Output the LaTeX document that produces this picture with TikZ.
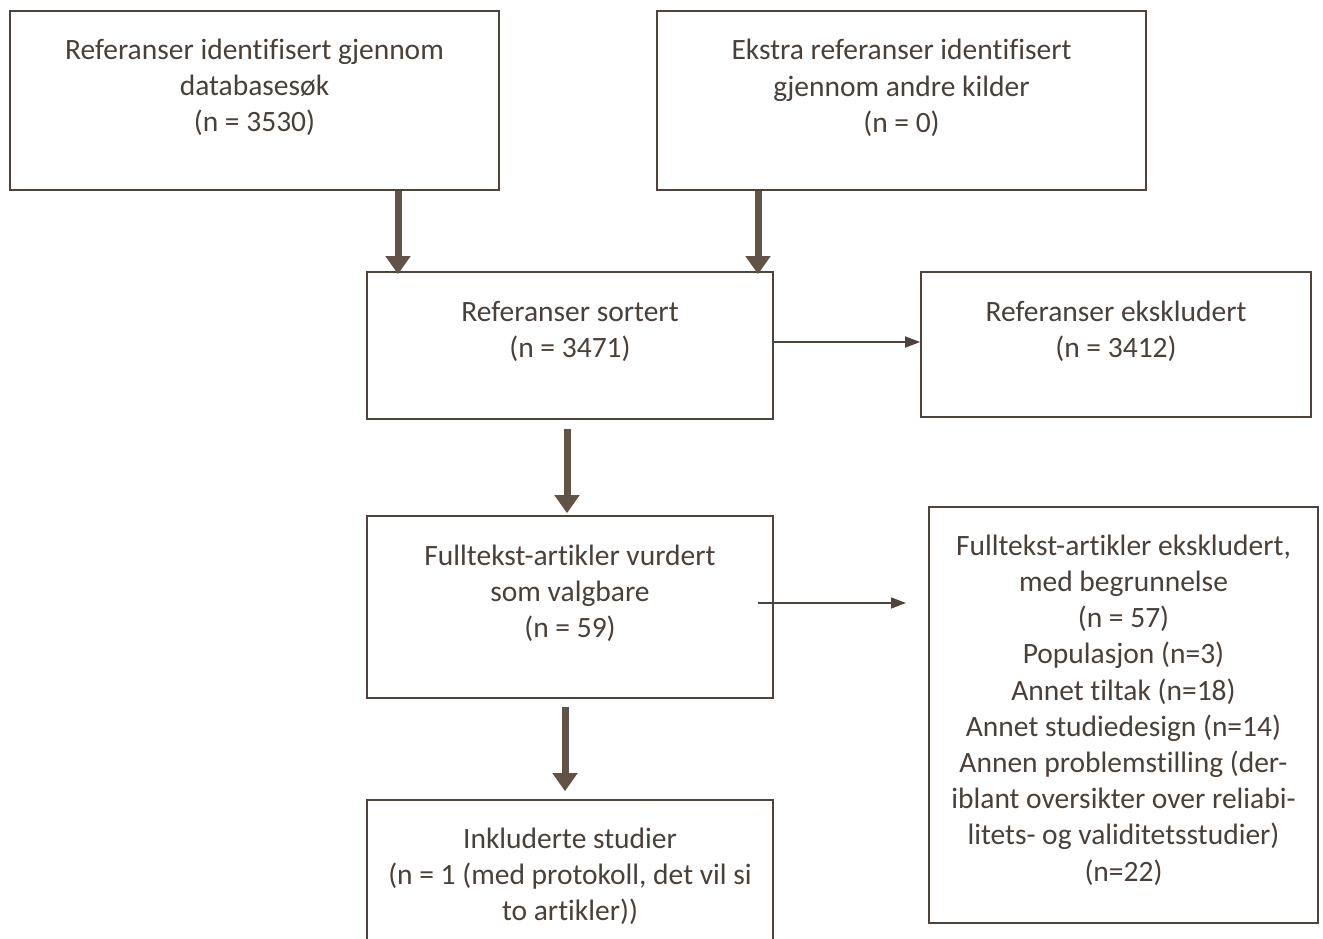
\documentclass[tikz,border=0pt]{standalone}
\usepackage{fontspec}
\setmainfont[Ligatures={NoCommon}]{Carlito}
\usetikzlibrary{arrows.meta,calc}
\definecolor{bc}{HTML}{4F443D}
\definecolor{ac}{HTML}{625347}
\definecolor{tc}{HTML}{4A403A}
\begin{document}
\begin{tikzpicture}[x=1pt,y=-1pt,
  box/.style={draw=bc, line width=1.6pt, inner sep=0pt, fill=none},
  txt/.style={font=\fontsize{29.5}{36.2}\selectfont, align=center, text=tc, inner sep=0pt},
  thick/.style={draw=ac, line width=7pt, -{Triangle[width=24pt,length=18pt]}},
  thin/.style={draw=bc, line width=1.5pt, -{Triangle[width=11pt,length=15pt]}}]
\useasboundingbox (0,0) rectangle (1323,939);
\clip (0,0) rectangle (1323,939);
% boxes
\node[box, minimum width=489pt, minimum height=179pt] (b1) at (254.5,100.5) {};
\node[box, minimum width=489pt, minimum height=179pt] (b2) at (901.5,100.5) {};
\node[box, minimum width=406pt, minimum height=147pt] (b3) at (570,345.5) {};
\node[box, minimum width=390pt, minimum height=145pt] (b4) at (1116,344.5) {};
\node[box, minimum width=406pt, minimum height=182pt] (b5) at (570,607) {};
\node[box, minimum width=389pt, minimum height=416pt] (b6) at (1123.5,715) {};
\node[box, minimum width=406pt, minimum height=200pt] (b7) at (570,900) {};
% texts
\node[txt] (t1) at (254.5,87.5) {Referanser identifisert gjennom\\databasesøk\\(n = 3530)};
\node[txt] (t2) at (901.5,88) {Ekstra referanser identifisert\\gjennom andre kilder\\(n = 0)};
\node[txt] (t3) at (570,331.5) {Referanser sortert\\(n = 3471)};
\node[txt] (t4) at (1116,331.5) {Referanser ekskludert\\(n = 3412)};
\node[txt] (t5) at (570,593) {Fulltekst-artikler vurdert\\som valgbare\\(n = 59)};
\node[txt] (t6) at (1123.5,710) {Fulltekst-artikler ekskludert,\\med begrunnelse\\(n = 57)\\Populasjon (n=3)\\Annet tiltak (n=18)\\Annet studiedesign (n=14)\\Annen problemstilling (der-\\iblant oversikter over reliabi-\\litets- og validitetsstudier)\\(n=22)};
\node[txt] (t7) at (570,876.5) {Inkluderte studier\\(n = 1 (med protokoll, det vil si\\to artikler))};
% arrow x positions
\coordinate (xa) at (398,0);
\coordinate (xb) at (758,0);
\coordinate (xc) at (567,0);
\coordinate (xd) at (565,0);
\coordinate (ya) at (0,342);
\coordinate (s5) at (758,603);
\coordinate (e5) at (906,603);
\draw[thick] (b1.south -| xa) -- ($(b3.north -| xa)+(0,3)$);
\draw[thick] (b2.south -| xb) -- ($(b3.north -| xb)+(0,3)$);
\draw[thick] ($(b3.south -| xc)+(0,9)$) -- ($(b5.north -| xc)+(0,-2)$);
\draw[thick] ($(b5.south -| xd)+(0,8)$) -- ($(b7.north -| xd)+(0,-8)$);
\draw[thin] (b3.east |- ya) -- (b4.west |- ya);
\draw[thin] (s5) -- (e5);
\end{tikzpicture}
\end{document}
